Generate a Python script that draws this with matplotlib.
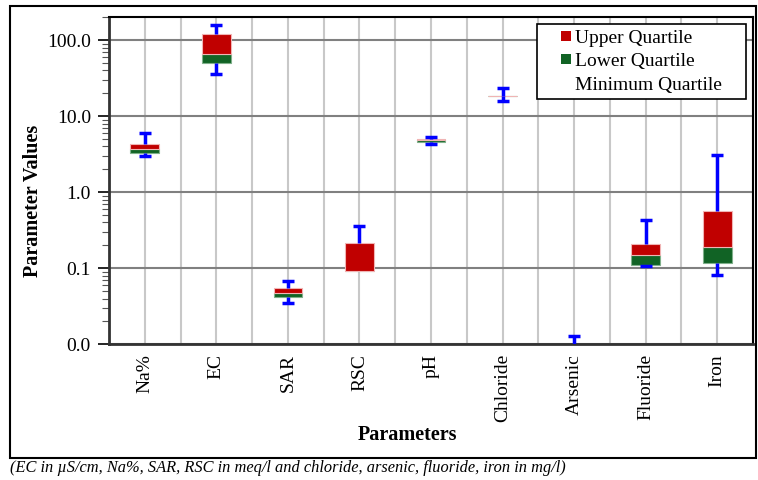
import matplotlib
matplotlib.use("Agg")
import matplotlib.pyplot as plt
import matplotlib.patches as mpatches
from matplotlib.legend_handler import HandlerPatch
from matplotlib.ticker import FuncFormatter, LogLocator
import numpy as np

# ── Data ──────────────────────────────────────────────────────────────────────
parameters = ["Na%", "EC", "SAR", "RSC", "pH", "Chloride", "Arsenic", "Fluoride", "Iron"]
minimum    = [3.0,  35.6, 0.035, np.nan, 4.30, 16.0, 0.001, 0.108, 0.081]
quartile1  = [3.3,  50.8, 0.0415, 0.092, 4.62, 18.7, 0.003, 0.110, 0.118]
median     = [3.7,  66.7, 0.048, 0.092, 4.80, 18.7, 0.004, 0.151, 0.188]
quartile3  = [4.25, 122.0, 0.0545, 0.217, 5.05, 18.7, 0.005, 0.209, 0.56]
maximum    = [5.95, 157.0, 0.068, 0.356, 5.30, 23.5, 0.013, 0.425, 3.05]

RED = "#c00000"
GREEN = "#116325"
BLUE = "#0000ff"

plt.rcParams["font.family"] = ["Liberation Serif", "DejaVu Serif"]

fig = plt.figure(figsize=(7.58, 4.8), dpi=100)
ax = fig.add_axes([109 / 758, 1 - 344.3 / 480, (753 - 109) / 758, (344.3 - 17.3) / 480])

x = np.arange(len(parameters))
q1 = np.array(quartile1)
med = np.array(median)
q3 = np.array(quartile3)
lo = np.array(minimum)
hi = np.array(maximum)
width = 0.4

# ── Whiskers (behind the boxes) ───────────────────────────────────────────────
ax.vlines(x, q3, hi, color=BLUE, linewidth=2.5, zorder=3)
ax.vlines(x, lo, q1, color=BLUE, linewidth=2.5, zorder=3)
ax.plot(x, hi, linestyle="none", marker="_", markersize=8, mew=2.5, color=BLUE, zorder=3)
ax.plot(x, lo, linestyle="none", marker="_", markersize=8, mew=2.5, color=BLUE, zorder=3)

# ── Stacked quartile boxes ────────────────────────────────────────────────────
ax.bar(x, med - q1, bottom=q1, width=width, color=GREEN, edgecolor="#7fb08a",
       linewidth=0.8, zorder=2)
ax.bar(x, q3 - med, bottom=med, width=width, color=RED, edgecolor="#f0b4b4",
       linewidth=0.8, zorder=2)

# ── Axes formatting ───────────────────────────────────────────────────────────
ax.set_yscale("log")
ax.set_ylim(0.01, 200)
ax.set_xlim(-0.5, len(parameters) - 0.5)
ax.yaxis.set_major_locator(LogLocator(base=10, numticks=10))
ax.yaxis.set_minor_locator(LogLocator(base=10, subs=np.arange(2, 10), numticks=20))
ax.yaxis.set_major_formatter(FuncFormatter(lambda v, p: f"{v:.1f}"))
ax.tick_params(axis="y", which="major", labelsize=14, length=8, width=1.2, pad=5, direction="out")
ax.tick_params(axis="y", which="minor", length=5, width=0.8, direction="out", color="#555555")

ax.set_xticks(x)
ax.set_xticklabels(parameters, rotation=90, fontsize=14)
ax.tick_params(axis="x", length=0, pad=7)

# vertical grid at every category and between categories
for xv in np.arange(-0.5, len(parameters), 0.5):
    ax.axvline(xv, color="#c8c8c8", linewidth=1.5, zorder=0)
ax.grid(axis="y", which="major", color="#808080", linewidth=1.5, zorder=0)
ax.set_axisbelow(True)

for side in ["left", "bottom"]:
    ax.spines[side].set_linewidth(2)
    ax.spines[side].set_color("#333333")
for side in ["top", "right"]:
    ax.spines[side].set_linewidth(1.5)

ax.set_ylabel("Parameter Values", fontsize=14.5, fontweight="bold")
ax.yaxis.set_label_coords((43 - 109) / 644, (344.3 - 201) / 327)
fig.text(407 / 758, 1 - 435 / 480, "Parameters", fontsize=14.5, fontweight="bold",
         ha="center", va="center")

# ── Legend ────────────────────────────────────────────────────────────────────
def _square(legend, orig_handle, xdescent, ydescent, width, height, fontsize):
    s = 0.52 * fontsize
    return mpatches.Rectangle((width - s - xdescent, (height - s) / 2 - ydescent), s, s)


handles = [
    mpatches.Patch(facecolor=RED, edgecolor="none", label="Upper Quartile"),
    mpatches.Patch(facecolor=GREEN, edgecolor="none", label="Lower Quartile"),
    mpatches.Patch(facecolor="none", edgecolor="none", label="Minimum Quartile    "),
]
leg = ax.legend(
    handles=handles,
    loc="upper right",
    bbox_to_anchor=(1 - 7 / 644, 1 - 7 / 327),
    borderaxespad=0,
    fontsize=14,
    frameon=True,
    fancybox=False,
    edgecolor="black",
    framealpha=1,
    borderpad=0.25,
    labelspacing=0.3,
    handlelength=1.5,
    handletextpad=0.2,
    handler_map={mpatches.Patch: HandlerPatch(patch_func=_square)},
)
leg.get_frame().set_linewidth(1.2)
leg.set_zorder(10)

# ── Outer frame and caption ───────────────────────────────────────────────────
frame = mpatches.Rectangle((10 / 758, 1 - 458 / 480), 746 / 758, 452 / 480,
                           transform=fig.transFigure, fill=False,
                           edgecolor="black", linewidth=1.5)
fig.patches.append(frame)
fig.text(10 / 758, 1 - 468 / 480,
         "(EC in µS/cm, Na%, SAR, RSC in meq/l and chloride, arsenic, fluoride, iron in mg/l)",
         fontsize=11.75, style="italic", ha="left", va="center")

fig.savefig("out.png", dpi=100)
